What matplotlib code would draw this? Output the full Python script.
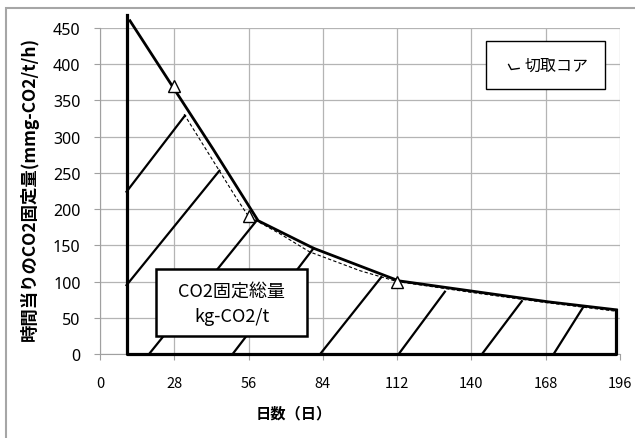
import matplotlib.pyplot as plt
from matplotlib.lines import Line2D
from matplotlib.patches import Rectangle
from matplotlib.legend_handler import HandlerBase

plt.rcParams['font.family'] = ['Noto Sans CJK JP', 'DejaVu Sans']

# 日数と固定量
x_ticks = [0, 28, 56, 84, 112, 140, 168, 196]
y_ticks = [0, 50, 100, 150, 200, 250, 300, 350, 400, 450]

# 切取コアの測定点
core_days = [28, 56, 112]
core_vals = [370, 190, 100]

# 外形線 (積分範囲の上側)
outline_x = [11.3, 42.6, 59.6, 80.5, 112.6, 169, 194.6]
outline_y = [460, 283, 184, 146, 101, 72, 61]

# 点線
dash_x = [31.7, 51.6, 56, 67.8, 79, 98, 112, 140, 168, 194.6]
dash_y = [331, 214, 190, 166, 141, 115, 100, 85, 71, 59]

# 範囲の左右端
left_day, left_top = 10, 468
right_day, right_top = 194.6, 61

# 斜線
hatch_x0 = [10, 10, 18.5, 50, 83, 112.6, 144, 171]
hatch_y0 = [224, 95, 0, 0, 0, 0, 0, 0]
hatch_x1 = [32, 45, 59, 80.5, 106, 130, 159, 182]
hatch_y1 = [329, 253, 184, 146, 106, 86, 73, 64]


class HandlerCorner(HandlerBase):
    def create_artists(self, legend, orig_handle, xdescent, ydescent,
                       width, height, fontsize, trans):
        xs = [0.35 * width, 0.5 * width, 0.95 * width]
        ys = [0.45 * height, 0.0, 0.1 * height]
        return [Line2D(xs, ys, color='black', lw=1, transform=trans)]


fig = plt.figure(figsize=(6.35, 4.39), dpi=100)
ax = fig.add_axes([100 / 635, 84 / 439, 520 / 635, 326 / 439])

# 外枠
fig.patches.append(Rectangle((6 / 635, -0.05), 1.1, 1 - 9 / 439 + 0.05,
                             transform=fig.transFigure, fill=False,
                             edgecolor='#a6a6a6', lw=1.5))

ax.set_xlim(0, 196)
ax.set_ylim(0, 450)
ax.set_xticks(x_ticks)
ax.set_yticks(y_ticks)
ax.grid(True, color='#b4b4b4', lw=0.9)
ax.set_axisbelow(True)
for s in ['top', 'right']:
    ax.spines[s].set_visible(False)
for s in ['left', 'bottom']:
    ax.spines[s].set_color('#a0a0a0')
ax.tick_params(direction='out', length=4, color='#a0a0a0')
ax.tick_params(axis='x', pad=12, labelsize=10.5)
ax.tick_params(axis='y', pad=10, labelsize=11.5)
for lab in ax.get_yticklabels():
    lab.set_family('Noto Sans')

# 斜線
for x0, y0, x1, y1 in zip(hatch_x0, hatch_y0, hatch_x1, hatch_y1):
    ax.plot([x0, x1], [y0, y1], color='black', lw=1.6, zorder=3)

# 範囲の枠
ax.plot([left_day, left_day, right_day, right_day],
        [left_top, 0, 0, right_top], color='black', lw=2.3,
        clip_on=False, zorder=4)
ax.plot(outline_x, outline_y, color='black', lw=2.0, clip_on=False, zorder=4)
ax.plot(dash_x, dash_y, color='black', lw=0.8, ls=(0, (3, 2)), zorder=4)
ax.plot(core_days, core_vals, ls='none', marker='^', ms=9,
        mfc='white', mec='black', mew=1, zorder=5)

# CO2固定総量
ax.add_patch(Rectangle((21.2, 25), 57, 92, facecolor='white',
                       edgecolor='black', lw=1.8, zorder=6))
ax.text(49.7, 88, 'CO2固定総量', ha='center', va='center',
        fontsize=13, zorder=7)
ax.text(49.7, 52, 'kg-CO2/t', ha='center', va='center',
        fontsize=13, zorder=7)

leg = ax.legend([object()], ['切取コア'], handler_map={object: HandlerCorner()},
                loc='center', bbox_to_anchor=(0.857, 0.8865), fontsize=11.5,
                fancybox=False, edgecolor='black', framealpha=1,
                borderpad=1.0, handlelength=1.1, handletextpad=0.3)
leg.get_frame().set_linewidth(1.0)
leg.set_zorder(8)

ax.set_ylabel('時間当りのCO2固定量(mmg-CO2/t/h)', fontsize=12.5,
              fontweight='bold')
ax.yaxis.set_label_coords(-0.118, 0.51)
ax.set_xlabel('日数（日）', fontsize=11, fontweight='bold')
ax.xaxis.set_label_coords(0.372, -0.155)

fig.savefig('out.png', dpi=100)
